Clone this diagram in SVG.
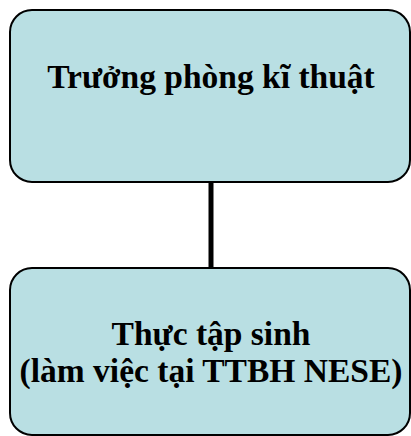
<svg xmlns="http://www.w3.org/2000/svg" width="411" height="436" viewBox="0 0 411 436">
<style>
.box{fill:#B9DFE3;stroke:#000;stroke-width:2}
.t{font-family:"Liberation Serif","Times New Roman",serif;font-weight:bold;font-size:33.5px;fill:#000;text-anchor:middle}
</style>
<rect width="411" height="436" fill="#fff"/>
<g id="connectors">
<line x1="211" y1="182" x2="211" y2="268" stroke="#000" stroke-width="5"/>
</g>
<g id="node-truong-phong">
<rect class="box" x="10" y="10" width="400" height="172" rx="22" ry="22"/>
<text class="t" x="211" y="88">Trưởng phòng kĩ thuật</text>
</g>
<g id="node-thuc-tap-sinh">
<rect class="box" x="10" y="268" width="400" height="167" rx="22" ry="22"/>
<text class="t" x="211" y="345">Thực tập sinh</text>
<text class="t" x="211" y="382">(làm việc tại TTBH NESE)</text>
</g>
</svg>
